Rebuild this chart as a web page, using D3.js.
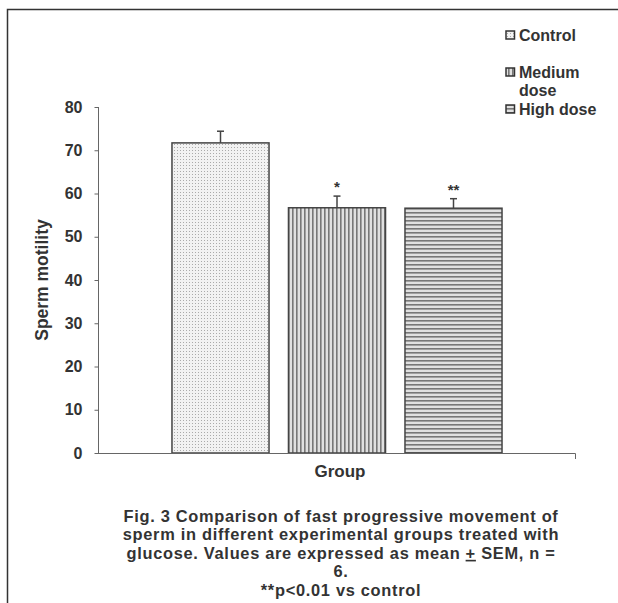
<!DOCTYPE html>
<html><head><meta charset="utf-8">
<script src="https://d3js.org/d3.v7.min.js"></script>
<style>body{margin:0;background:#fff}svg{display:block}text{font-family:"Liberation Sans",Arial,sans-serif;font-weight:bold;fill:#333}</style>
</head><body>
<script>
const categories = ["Control","Medium dose","High dose"];
const means = [71.7, 56.7, 56.6];
const sems = [2.7, 2.7, 2.2];
const marks = ["", "*", "**"];
const yTicks = [0,10,20,30,40,50,60,70,80];
const legendLines = [["Control"],["Medium","dose"],["High dose"]];
const captionLines = ["Fig. 3 Comparison of fast progressive movement of","sperm in different experimental groups treated with","glucose. Values are expressed as mean + SEM, n =","6.","**p<0.01 vs control"];

const W=618,H=603;
const svg=d3.select("body").append("svg").attr("width",W).attr("height",H);
const defs=svg.append("defs");
const p0=defs.append("pattern").attr("id","pat0").attr("patternUnits","userSpaceOnUse").attr("width",3).attr("height",3);
p0.append("rect").attr("width",3).attr("height",3).attr("fill","#f2f2f2");
p0.append("rect").attr("width",1).attr("height",1).attr("fill","#aaa");
const p1=defs.append("pattern").attr("id","pat1").attr("patternUnits","userSpaceOnUse").attr("width",4).attr("height",4);
p1.append("rect").attr("width",4).attr("height",4).attr("fill","#e0e0e0");
p1.append("rect").attr("width",1.6).attr("height",4).attr("fill","#777");
const p2=defs.append("pattern").attr("id","pat2").attr("patternUnits","userSpaceOnUse").attr("width",4).attr("height",4);
p2.append("rect").attr("width",4).attr("height",4).attr("fill","#e0e0e0");
p2.append("rect").attr("width",4).attr("height",1.6).attr("fill","#777");

svg.append("path").attr("d","M7.5,603 V9.5 H618").attr("fill","none").attr("stroke","#333").attr("stroke-width",1.5);

const x=d3.scaleBand().domain(categories).range([162.25,511.75]).paddingInner(0.167).paddingOuter(0.0835);
const y=d3.scaleLinear().domain([0,80]).range([453,107]);

svg.selectAll("rect.bar").data(categories).enter().append("rect")
 .attr("x",d=>x(d)).attr("width",x.bandwidth())
 .attr("y",(d,i)=>y(means[i])).attr("height",(d,i)=>y(0)-y(means[i]))
 .attr("fill",(d,i)=>`url(#pat${i})`).attr("stroke","#444").attr("stroke-width",1.5);

categories.forEach((c,i)=>{
  const cx=x(c)+x.bandwidth()/2;
  svg.append("line").attr("x1",cx).attr("x2",cx).attr("y1",y(means[i])).attr("y2",y(means[i]+sems[i])).attr("stroke","#444").attr("stroke-width",1.5);
  svg.append("line").attr("x1",cx-3.5).attr("x2",cx+3.5).attr("y1",y(means[i]+sems[i])).attr("y2",y(means[i]+sems[i])).attr("stroke","#444").attr("stroke-width",1.5);
  if(marks[i]) svg.append("text").attr("x",cx).attr("y",y(means[i]+sems[i])-4).attr("text-anchor","middle").attr("font-size",15).text(marks[i]);
});

const yAxis=svg.append("g").attr("transform","translate(98.5,0)").call(d3.axisLeft(y).tickValues(yTicks).tickSize(4).tickPadding(12).tickFormat(d3.format("d")));
yAxis.selectAll("path,line").attr("stroke","#666");
yAxis.select(".domain").attr("d","M0,453.5V107");
yAxis.selectAll("text").attr("font-size",16).attr("fill","#333").style("font-family","Liberation Sans, Arial").style("font-weight","bold");
svg.append("path").attr("d",`M95,453.5 H575.5 V459`).attr("fill","none").attr("stroke","#666").attr("stroke-width",1);

svg.append("text").attr("transform","translate(48,280) rotate(-90)").attr("text-anchor","middle").attr("font-size",17.5).text("Sperm motility");
svg.append("text").attr("x",340).attr("y",477).attr("text-anchor","middle").attr("font-size",17).text("Group");

const legY=[35,72,109];
legendLines.forEach((ls,i)=>{
  svg.append("rect").attr("x",506).attr("y",legY[i]-4).attr("width",8.5).attr("height",8).attr("fill",`url(#pat${i})`).attr("stroke","#333").attr("stroke-width",1.5);
  ls.forEach((t,j)=>{
    svg.append("text").attr("x",519).attr("y",legY[i]+6+j*18).attr("font-size",16).text(t);
  });
});

captionLines.forEach((t,i)=>{
  const tx=svg.append("text").attr("x",341).attr("y",522+i*18.4).attr("text-anchor","middle").attr("font-size",16.4).attr("letter-spacing",0.7);
  if(t.includes(" + ")){
    const parts=t.split("+");
    tx.append("tspan").text(parts[0]);
    tx.append("tspan").attr("text-decoration","underline").text("+");
    tx.append("tspan").text(parts[1]);
  } else tx.text(t);
});
</script>
</body></html>
